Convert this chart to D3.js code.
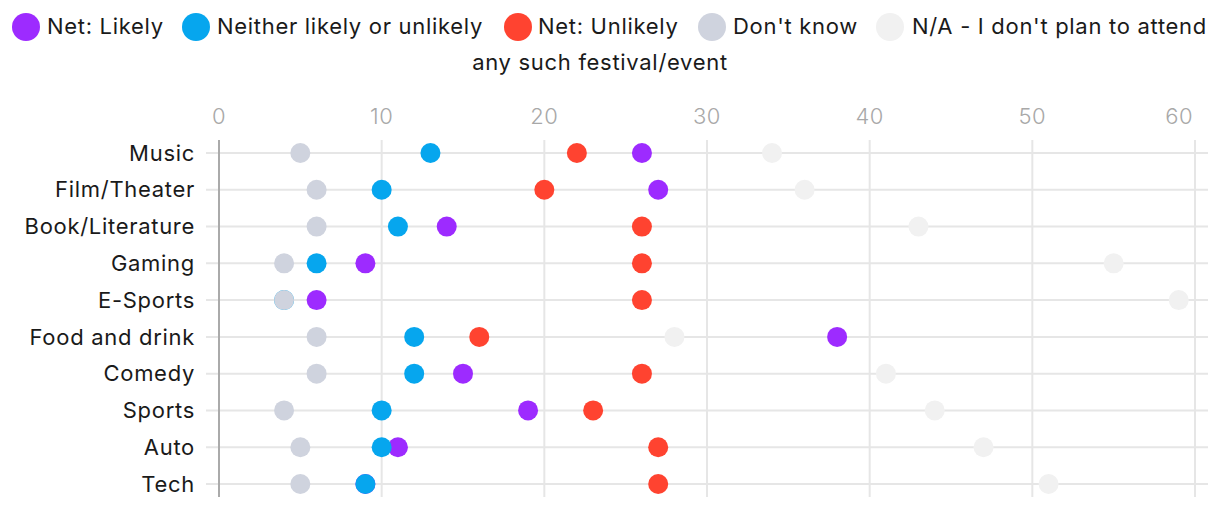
<!DOCTYPE html>
<html><head><meta charset="utf-8">
<script src="https://cdn.jsdelivr.net/npm/d3@7"></script>
<style>
html,body{margin:0;padding:0;background:#fff;}
svg{display:block;font-family:Inter,"Noto Sans",sans-serif;}
</style></head>
<body><svg id="c" width="1220" height="510"></svg>
<script>
const categories = ["Music","Film/Theater","Book/Literature","Gaming","E-Sports","Food and drink","Comedy","Sports","Auto","Tech"];
const seriesNames = ["Net: Likely","Neither likely or unlikely","Net: Unlikely","Don't know","N/A - I don't plan to attend any such festival/event"];
const netLikely   = [26,27,14,9,6,38,15,19,11,9];
const neither     = [13,10,11,6,4,12,12,10,10,9];
const netUnlikely = [22,20,26,26,26,16,26,23,27,27];
const dontKnow    = [5,6,6,4,4,6,6,4,5,5];
const notAttend   = [34,36,43,55,59,28,41,44,47,51];
const xTicks = [0,10,20,30,40,50,60];
const colors = ["#9d2bff","#06a6ee","#ff4330","#cfd3de","#f1f1f1"];
const allSeries = [netLikely, neither, netUnlikely, dontKnow, notAttend];

(function(){
const svg = d3.select("#c");
const x = d3.scaleLinear().domain([0,60]).range([219,1195]);
const y = d3.scalePoint().domain(categories).range([153,484]);
const plotTop = 140, plotBottom = 497;

const g = svg.append("g");
g.selectAll("line.v").data(xTicks.slice(1)).enter().append("line")
  .attr("x1",d=>x(d)).attr("x2",d=>x(d)).attr("y1",plotTop).attr("y2",plotBottom)
  .attr("stroke","#e6e6e6").attr("stroke-width",2);
g.selectAll("line.h").data(categories).enter().append("line")
  .attr("x1",206).attr("x2",1208).attr("y1",d=>y(d)).attr("y2",d=>y(d))
  .attr("stroke","#e6e6e6").attr("stroke-width",2);
g.append("line").attr("x1",x(0)).attr("x2",x(0)).attr("y1",plotTop).attr("y2",plotBottom)
  .attr("stroke","#aaaaaa").attr("stroke-width",2);

svg.append("g").selectAll("text").data(xTicks).enter().append("text")
  .attr("x",(d,i)=> i===xTicks.length-1 ? x(d)-2 : x(d))
  .attr("y",124)
  .attr("text-anchor",(d,i)=> i===xTicks.length-1 ? "end" : "middle")
  .attr("font-size",22).attr("font-weight",300).attr("letter-spacing",0.5)
  .attr("fill","#a8a8a8").text(d=>d);

svg.append("g").selectAll("text").data(categories).enter().append("text")
  .attr("x",195).attr("y",d=>y(d)).attr("dy","0.35em")
  .attr("text-anchor","end").attr("font-size",22).attr("letter-spacing",0.7).attr("fill","#1a1a1a")
  .text(d=>d);

allSeries.forEach((vals,si)=>{
  svg.append("g").selectAll("circle").data(vals).enter().append("circle")
    .attr("cx",d=>x(d)).attr("cy",(d,i)=>y(categories[i])).attr("r",10)
    .attr("fill",colors[si]);
});

const legendPos = [
  {cx:26, tx:47},
  {cx:196, tx:217},
  {cx:518, tx:538},
  {cx:712, tx:733},
  {cx:890, tx:912}
];
const lg = svg.append("g");
function ltext(xp, yp, s, anchor){
  lg.append("text").attr("x",xp).attr("y",yp).attr("dy","0.35em")
    .attr("text-anchor",anchor||"start")
    .attr("font-size",22).attr("letter-spacing",0.7).attr("fill","#1a1a1a").text(s);
}
seriesNames.forEach((name,i)=>{
  lg.append("circle").attr("cx",legendPos[i].cx).attr("cy",27).attr("r",14).attr("fill",colors[i]);
  if (i===4) {
    ltext(legendPos[i].tx, 26, "N/A - I don't plan to attend");
    ltext(600, 62, "any such festival/event", "middle");
  } else {
    ltext(legendPos[i].tx, 26, name);
  }
});
})();
</script></body></html>
